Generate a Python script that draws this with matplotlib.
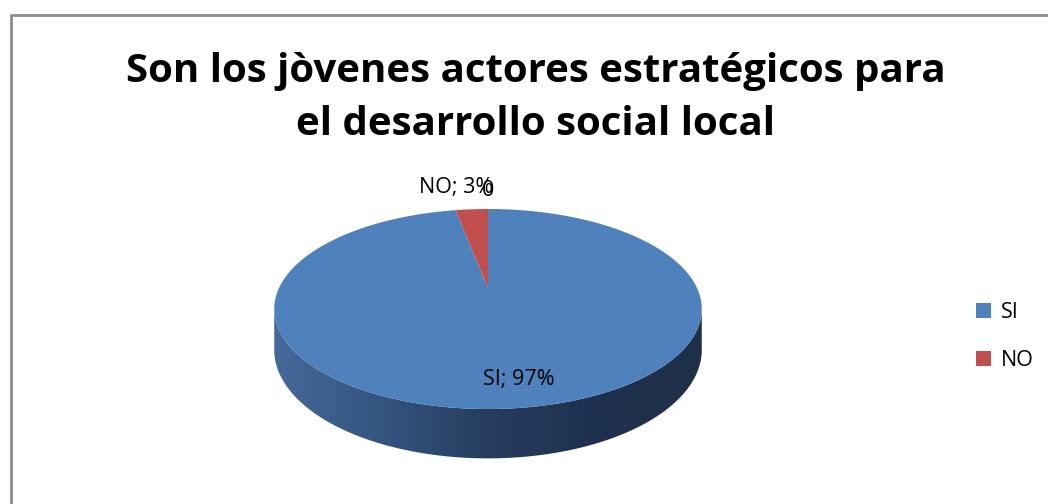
import numpy as np
import matplotlib
matplotlib.use("Agg")
import matplotlib.pyplot as plt
from matplotlib.patches import Polygon, Patch
from matplotlib.colors import LinearSegmentedColormap

# data
categories = ["SI", "NO"]
values = [97, 3]
colors = ["#4F81BD", "#C0504D"]
title = "Son los jòvenes actores estratégicos para\nel desarrollo social local"

plt.rcParams["font.family"] = ["Open Sans", "DejaVu Sans"]

fig = plt.figure(figsize=(10.48, 5.04), dpi=100)
ax = fig.add_axes([0, 0, 1, 1])
ax.set_xlim(0, 1048)
ax.set_ylim(504, 0)
ax.axis("off")

# chart frame (only left/top visible in the crop)
ax.plot([11, 11, 1060], [520, 15, 15], color="#8c8c8c", lw=2, solid_capstyle="butt")

# pie geometry (pixel space, simple perspective)
cx, cy = 488, 288
a, b, k, depth = 209, 95.6, 0.21, 39


def proj(theta, dz=0.0):
    s = 1.0 / (1.0 + k * np.sin(theta))
    x = cx + a * np.cos(theta) * s
    y = cy - b * np.sin(theta) * s + dz * s
    return x, y


# side wall (front half)
t0 = np.pi + np.arcsin(k)
t1 = 2 * np.pi - np.arcsin(k)
tt = np.linspace(t0, t1, 200)
xt, yt = proj(tt)
xb, yb = proj(tt[::-1], depth)
side = Polygon(np.column_stack([np.r_[xt, xb], np.r_[yt, yb]]), closed=True,
               facecolor="none", edgecolor="none")
ax.add_patch(side)
grad = LinearSegmentedColormap.from_list(
    "side", ["#45699B", "#34557F", "#263D5E", "#1F3150", "#1F3049"])
gx = np.linspace(0, 1, 256).reshape(1, -1)
im = ax.imshow(gx, cmap=grad, aspect="auto",
               extent=[xt.min(), xt.max(), yb.max() + 2, yt.min() - 2],
               zorder=1)
im.set_clip_path(side)

# top face wedges: start at 12 o'clock, clockwise
fracs = np.array(values, dtype=float) / sum(values)
start = np.pi / 2
for frac, col in zip(fracs, colors):
    end = start - frac * 2 * np.pi
    th = np.linspace(start, end, max(int(frac * 400), 8))
    px, py = proj(th)
    pts = np.column_stack([np.r_[cx, px], np.r_[cy, py]])
    ax.add_patch(Polygon(pts, closed=True, facecolor=col, edgecolor="none",
                         zorder=2))
    start = end

# data labels (the stray "0" overlaps the NO label, as in the original)
ax.text(456, 188, f"{categories[1]}; {values[1]}%", ha="center", va="center",
        fontsize=15.5, zorder=5)
ax.text(488, 191, "0", ha="center", va="center", fontsize=15.5, zorder=5)
ax.text(519, 379, f"{categories[0]}; {values[0]}%", ha="center", va="center",
        fontsize=15.5, zorder=5)

# title
ax.text(536, 98, title, ha="center", va="center", fontsize=29,
        fontweight="bold", linespacing=1.45)

# legend
handles = [Patch(facecolor=c, edgecolor="none") for c in colors]
ax.legend(handles, categories, loc="center left", bbox_to_anchor=(0.913, 0.333),
          frameon=False, fontsize=15.5, handlelength=0.7, handleheight=0.7,
          labelspacing=1.25, handletextpad=0.45)

fig.savefig("out.png", dpi=100)
